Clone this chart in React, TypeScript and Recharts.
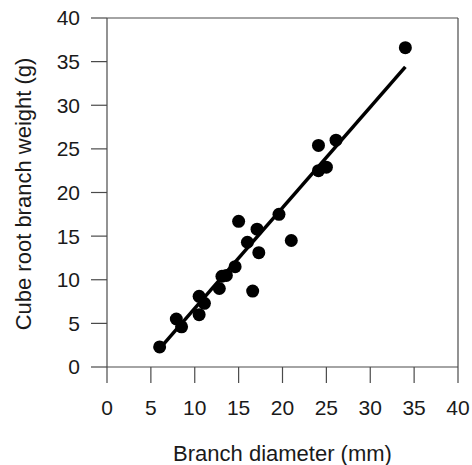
import { ScatterChart, Scatter, XAxis, YAxis, ReferenceLine } from "recharts";

// branch diameter (mm) vs cube root branch weight (g)
const diameter = [6.0, 7.9, 8.5, 10.5, 10.5, 11.1, 12.8, 13.1, 13.6, 14.6, 15.0, 16.0, 16.6, 17.1, 17.3, 19.6, 21.0, 24.1, 24.1, 25.0, 26.1, 34.0];
const weight = [2.3, 5.5, 4.6, 8.1, 6.0, 7.3, 9.0, 10.4, 10.5, 11.5, 16.7, 14.3, 8.7, 15.8, 13.1, 17.5, 14.5, 25.4, 22.5, 22.9, 26.0, 36.6];

// fitted regression line end points
const fitX = [6, 34];
const fitY = [2.1, 34.4];

const ticks = [0, 5, 10, 15, 20, 25, 30, 35, 40];

const points = diameter.map((x, i) => ({ x, y: weight[i] }));
const fit = fitX.map((x, i) => ({ x, y: fitY[i] }));

const FONT = '"Liberation Sans", Arial, Helvetica, sans-serif';
const AXIS = "#4a4a4a";

const Dot = (props: any) => <circle cx={props.cx} cy={props.cy} r={6.5} fill="#000" />;
const NoDot = () => <g />;

const YTitle = (props: any) => {
  const vb = props.viewBox;
  const cx = vb.x + 31;
  const cy = vb.y + vb.height / 2 + 1.5;
  return (
    <text
      x={cx}
      y={cy}
      transform={`rotate(-90 ${cx} ${cy})`}
      textAnchor="middle"
      fontSize={22}
      fontFamily={FONT}
      fill="#1a1a1a"
    >
      Cube root branch weight (g)
    </text>
  );
};

export default function App() {
  return (
    <div style={{ position: "absolute", left: 0, top: 0, background: "#fff" }}>
      <ScatterChart width={472} height={465} margin={{ top: 18, right: 14, bottom: 0, left: 0 }}>
        <XAxis
          type="number"
          dataKey="x"
          domain={[0, 40]}
          ticks={ticks}
          height={98}
          tickSize={16}
          tickMargin={17}
          axisLine={{ stroke: AXIS, strokeWidth: 1.2 }}
          tickLine={{ stroke: AXIS, strokeWidth: 1.2 }}
          tick={{ fontSize: 21, fontFamily: FONT, fill: "#1a1a1a" }}
          label={{
            value: "Branch diameter (mm)",
            position: "insideBottom",
            offset: 4,
            fontSize: 22,
            fontFamily: FONT,
            fill: "#1a1a1a",
          }}
        />
        <YAxis
          type="number"
          dataKey="y"
          domain={[0, 40]}
          ticks={ticks}
          width={107}
          tickSize={16}
          tickMargin={11}
          axisLine={{ stroke: AXIS, strokeWidth: 1.2 }}
          tickLine={{ stroke: AXIS, strokeWidth: 1.2 }}
          tick={{ fontSize: 21, fontFamily: FONT, fill: "#1a1a1a" }}
          label={{ content: YTitle }}
        />
        <ReferenceLine y={40} stroke={AXIS} strokeWidth={1.2} />
        <ReferenceLine x={40} stroke={AXIS} strokeWidth={1.2} />
        <Scatter
          data={fit}
          line={{ stroke: "#000", strokeWidth: 3.5 }}
          shape={NoDot}
          legendType="none"
          isAnimationActive={false}
        />
        <Scatter data={points} shape={Dot} fill="#000" isAnimationActive={false} />
      </ScatterChart>
    </div>
  );
}
